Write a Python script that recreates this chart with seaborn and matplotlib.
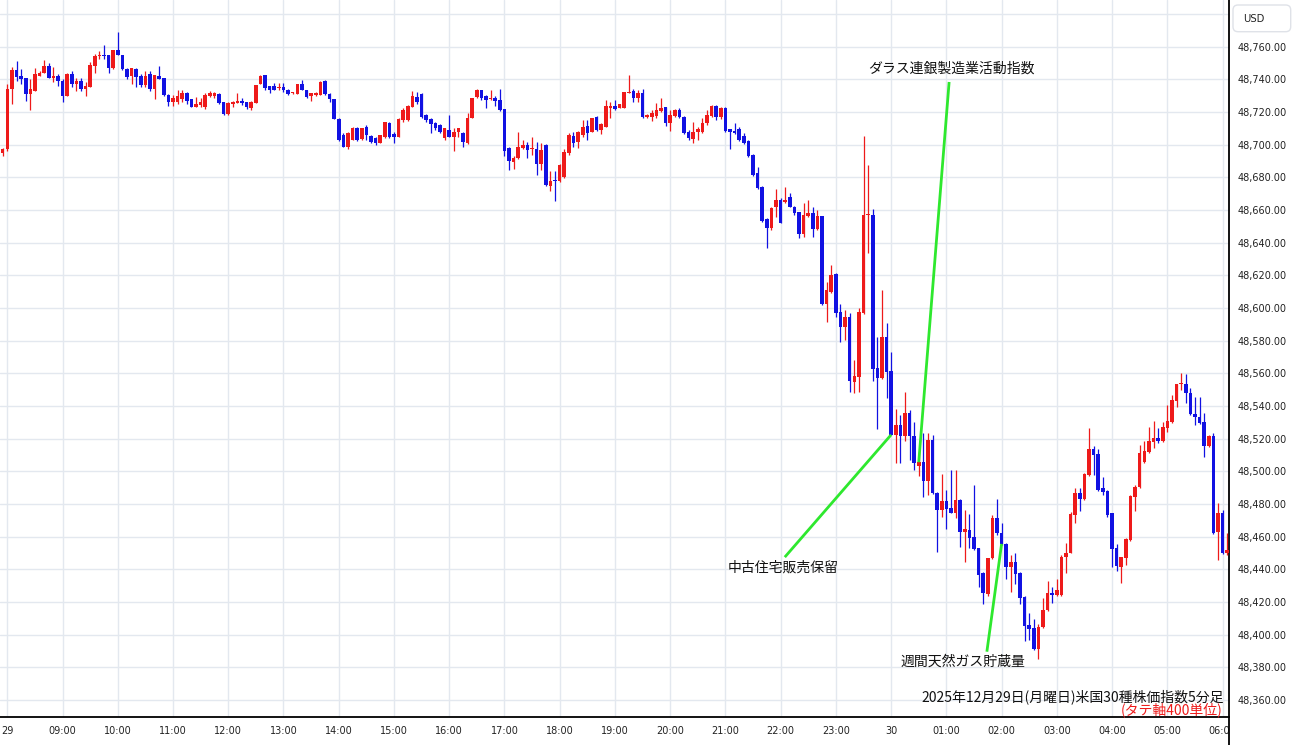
import numpy as np
import pandas as pd
import matplotlib
matplotlib.use("Agg")
import matplotlib.pyplot as plt
import seaborn as sns
from matplotlib.patches import FancyBboxPatch, Rectangle
from matplotlib.lines import Line2D

# ---------------- data (5-minute candles, 07:55 on the 29th -> 06:05 on the 30th) ----------------
opens = [48695, 48697, 48734, 48745.5, 48742, 48740.8, 48731, 48733, 48742, 48744,
         48748, 48741, 48742, 48739, 48730, 48743, 48737, 48739, 48734, 48735,
         48748, 48754, 48755, 48754.6, 48747, 48757.7, 48755, 48746.5, 48742, 48746.5,
         48742, 48736.7, 48743, 48734, 48742, 48741, 48730.5, 48726, 48726.2, 48727.6,
         48731.3, 48727.6, 48723.1, 48724.2, 48723.1, 48729.7, 48729.7, 48731, 48726, 48718.4,
         48724.8, 48725.6, 48726.8, 48726.2, 48722.1, 48725.6, 48737, 48742.5, 48735.8, 48735.8,
         48734.4, 48735, 48733.7, 48731.3, 48731, 48737, 48733.7, 48729.7, 48730.3, 48730.3,
         48739, 48731, 48727.9, 48715.7, 48705.9, 48698.7, 48702.8, 48710.4, 48703.2, 48711,
         48705.5, 48703.8, 48700.8, 48704.9, 48713, 48706.3, 48704.9, 48715.1, 48715.1, 48723.2,
         48729.4, 48730.8, 48718.1, 48715.5, 48713, 48712, 48703.8, 48708.9, 48704.9, 48707.9,
         48706.9, 48700.8, 48716.1, 48729.3, 48733.4, 48729.9, 48727.7, 48728.7, 48727.3, 48721.8,
         48697.7, 48689.6, 48691.6, 48697.7, 48699.7, 48697.3, 48697.3, 48687.9, 48699.7, 48674.7,
         48678.1, 48677.7, 48680.4, 48694.6, 48705.5, 48701.4, 48705.9, 48711.6, 48707.9, 48717.1,
         48708.9, 48711, 48722.2, 48723.8, 48722.2, 48722.6, 48731.4, 48732.8, 48728.3, 48731.4,
         48717.1, 48716.7, 48717.5, 48720.8, 48722.8, 48713, 48717.5, 48721.2, 48717.1, 48707.9,
         48703.2, 48707.9, 48707.9, 48713, 48717.5, 48723.6, 48717.1, 48722.2, 48709.3, 48708.5,
         48709.3, 48705.2, 48702.4, 48693.6, 48682.4, 48674.2, 48654.2, 48648.7, 48661.6, 48666.1,
         48665.1, 48667.7, 48662, 48658.9, 48645.2, 48656.3, 48658.3, 48648.1, 48656.3, 48602.4,
         48610, 48620.8, 48597.7, 48588.5, 48594.7, 48554.9, 48557.9, 48597.1, 48656.9, 48656.9,
         48563, 48556.9, 48582.4, 48561.6, 48522.3, 48528.4, 48521.6, 48535.5, 48521.6, 48503,
         48505.5, 48494.3, 48519.2, 48486.5, 48476.3, 48482, 48477.3, 48474.7, 48482.4, 48463,
         48464.1, 48460, 48452.8, 48437.6, 48424.9, 48446.7, 48471.2, 48462, 48455.5, 48441.6,
         48444.7, 48437.6, 48422.9, 48406, 48403.9, 48391, 48404.5, 48415.1, 48425.7, 48424.3,
         48424.3, 48447.3, 48450.1, 48473.2, 48486.4, 48482.7, 48497.6, 48513.9, 48510.3, 48489.5,
         48488, 48474.2, 48452.7, 48441.5, 48446.6, 48457.8, 48484.3, 48490.1, 48505.8, 48511.9,
         48518, 48520.1, 48518.6, 48526.2, 48530.3, 48543.1, 48553.3, 48553.3, 48548, 48535,
         48532.9, 48530.3, 48515.4, 48521.5, 48462.9, 48474.2, 48449.7]

highs = [48698, 48737, 48747.5, 48751, 48746.5, 48741, 48740, 48747, 48745, 48752,
         48750, 48747.5, 48743, 48740, 48744, 48745, 48741, 48741, 48738, 48750.5,
         48755.6, 48757, 48761, 48755, 48758, 48769, 48755, 48747, 48747, 48747,
         48743, 48745, 48745, 48742.4, 48748, 48741, 48731, 48730.3, 48733.3, 48733.7,
         48732, 48728, 48729.2, 48728.8, 48731.3, 48733, 48732.3, 48731.5, 48726.2, 48726,
         48726.8, 48731.3, 48728.8, 48726.2, 48726.8, 48736.4, 48742.5, 48742.5, 48735.8, 48737.4,
         48737.4, 48737.4, 48734.2, 48732.3, 48737, 48739.5, 48733.7, 48731.7, 48732, 48739,
         48739.5, 48731.4, 48728, 48716, 48706.9, 48707.9, 48711, 48710.8, 48710.4, 48712,
         48705.8, 48704.9, 48705.9, 48714, 48713.6, 48707.9, 48716.1, 48722.2, 48724.2, 48732.8,
         48732.4, 48731.3, 48719, 48716, 48714, 48712.5, 48710.4, 48718.1, 48710, 48710.4,
         48707.9, 48719.1, 48728.3, 48734, 48733.4, 48730.4, 48733.4, 48729.9, 48734, 48722,
         48698.7, 48693.2, 48707.9, 48702.8, 48701.8, 48704.8, 48701.8, 48700.8, 48700.1, 48683.8,
         48683.8, 48687.9, 48697.3, 48706.9, 48707.9, 48708, 48715.1, 48715.1, 48716.5, 48717.7,
         48713, 48727.3, 48725.8, 48727.3, 48725, 48732.4, 48742.6, 48734, 48733.4, 48734,
         48718.5, 48721.2, 48725.2, 48728.3, 48723, 48721.2, 48721.5, 48722.2, 48717.3, 48708.9,
         48714, 48711, 48716.1, 48721.2, 48724.2, 48724.2, 48723.2, 48723.2, 48709.5, 48713,
         48711, 48706.9, 48703, 48694, 48686.5, 48674.5, 48655, 48661.6, 48672.6, 48667.1,
         48674.2, 48670.1, 48662.5, 48659, 48664, 48666, 48662, 48659.9, 48656.5, 48616.1,
         48626.3, 48621.6, 48602.4, 48598.7, 48597.1, 48568.1, 48599.8, 48705.2, 48687.5, 48660.3,
         48582.4, 48611, 48591, 48573.2, 48537.9, 48534.5, 48548.8, 48537.5, 48530.4, 48512,
         48523.2, 48523.6, 48522.2, 48487, 48498.4, 48488.6, 48500.8, 48500.8, 48483, 48476.3,
         48473.9, 48491.6, 48453, 48438, 48446.7, 48473.3, 48482.8, 48468.2, 48456, 48448.8,
         48450.2, 48438, 48423.3, 48413.1, 48409.4, 48406.6, 48422.3, 48432.5, 48429.4, 48433.9,
         48448.8, 48456, 48475.2, 48489.5, 48489.5, 48499, 48526.2, 48515.4, 48513.3, 48496.2,
         48488.3, 48474.5, 48455.4, 48447.6, 48458.9, 48485.4, 48491.5, 48516, 48518.6, 48527.2,
         48530.9, 48526.2, 48530.3, 48540.5, 48546.6, 48553.7, 48560.2, 48559.8, 48550.7, 48545.6,
         48545.2, 48535.8, 48522.1, 48523.5, 48480.3, 48476.2, 48461.9]

lows = [48693, 48696, 48725, 48739, 48737, 48726.5, 48721, 48733, 48742, 48744,
        48741, 48738, 48736, 48726, 48730, 48735, 48733, 48733, 48729.5, 48735,
        48744, 48752.6, 48752.6, 48744, 48746.5, 48755, 48745.5, 48740, 48737, 48735,
        48735, 48735, 48733, 48728, 48740, 48730, 48723.6, 48723.5, 48725, 48726.2,
        48725, 48722.7, 48722.7, 48723.1, 48721.5, 48729.2, 48728.8, 48724.8, 48718, 48718,
        48723, 48725.2, 48724.4, 48722, 48721, 48725.2, 48737, 48733.7, 48731.3, 48733.7,
        48733.3, 48732.3, 48730.3, 48730.8, 48731, 48733.3, 48728.8, 48726.8, 48730, 48730.3,
        48730.3, 48726.3, 48715.5, 48702.2, 48698.5, 48697.3, 48702.8, 48702.4, 48702.8, 48702.8,
        48700.8, 48699.8, 48700.8, 48703.8, 48703.8, 48700.8, 48704.9, 48714, 48714.5, 48723.2,
        48724.6, 48716.5, 48714, 48707, 48708.9, 48707, 48702.8, 48704.5, 48696, 48704.9,
        48698.7, 48700.2, 48716.1, 48728.7, 48727.3, 48722.4, 48727.3, 48723.8, 48720.6, 48693.2,
        48684.4, 48685, 48691.2, 48697.3, 48691.6, 48693.6, 48681.4, 48684.4, 48674.7, 48671.6,
        48665.5, 48677.3, 48679.3, 48693.6, 48698.7, 48697.7, 48704.9, 48702.8, 48707.5, 48708.3,
        48706.3, 48710.5, 48716.1, 48721.2, 48722.2, 48722.2, 48731.4, 48725.8, 48725.8, 48716.5,
        48716.5, 48714.6, 48716.1, 48720.1, 48711.4, 48708.5, 48717, 48716.5, 48706.5, 48702.8,
        48700.8, 48702.8, 48706.9, 48712, 48717, 48715.1, 48715.5, 48707.9, 48697.1, 48706.5,
        48702.4, 48700.4, 48692.6, 48680.8, 48672.8, 48652.8, 48636.5, 48647.7, 48655.9, 48651.8,
        48664.1, 48661.6, 48656.9, 48642.6, 48643.6, 48655.5, 48643.6, 48647.5, 48601.8, 48591.6,
        48609.4, 48594.7, 48579.3, 48580.4, 48548.8, 48547.7, 48548.8, 48596.5, 48633.8, 48555.5,
        48525.7, 48556.3, 48544.7, 48522, 48504.9, 48504.9, 48518.2, 48506.9, 48500.8, 48497,
        48484, 48485.5, 48486, 48450.8, 48472.2, 48464.5, 48474.3, 48471.2, 48453.5, 48444.7,
        48452.9, 48451.8, 48429.4, 48418.8, 48423.3, 48446.2, 48461, 48455, 48433.9, 48426.3,
        48431, 48418.8, 48396.3, 48396.8, 48390.5, 48384.9, 48404, 48414.7, 48419.2, 48423.7,
        48423.7, 48437.4, 48449.7, 48468.4, 48475.8, 48482.3, 48497.2, 48497.6, 48488, 48485.4,
        48472.1, 48441.5, 48439.1, 48431.3, 48442.5, 48457.5, 48475.8, 48489.7, 48505.2, 48511.3,
        48514.5, 48517.4, 48518, 48524.1, 48529.5, 48539.4, 48550, 48541.9, 48534.5, 48528.2,
        48529.2, 48508.8, 48515, 48461.5, 48445.6, 48449.3, 48449]

closes = [48697, 48734, 48745.5, 48741.5, 48740, 48731, 48734, 48743, 48744, 48748,
          48741, 48742, 48739, 48730, 48743, 48737, 48739, 48734, 48736, 48748.5,
          48754.5, 48755, 48754, 48747, 48757.7, 48755, 48746, 48741.5, 48747, 48741.5,
          48736.7, 48742, 48734, 48742.4, 48740, 48730.5, 48726, 48728.8, 48729.7, 48731.3,
          48726.8, 48723.1, 48724.6, 48726.2, 48730.3, 48731.3, 48731.3, 48725.2, 48718.4, 48725.6,
          48726.2, 48726.8, 48725.2, 48723.1, 48726.2, 48736.4, 48742, 48734.4, 48733.3, 48733.7,
          48734.6, 48733.3, 48731, 48731.7, 48737, 48733.7, 48729.2, 48731.7, 48731.7, 48738.4,
          48731, 48727.9, 48715.7, 48702.8, 48698.7, 48706.9, 48710.4, 48702.8, 48710, 48705.9,
          48701.8, 48700.8, 48705.9, 48713.6, 48704.9, 48704.9, 48715.7, 48721.2, 48723.8, 48730,
          48725.9, 48717.1, 48715.1, 48712.4, 48710.4, 48707.5, 48710, 48704.9, 48707.9, 48710,
          48701.8, 48716.1, 48728.3, 48733.4, 48728.5, 48727.5, 48728.7, 48726.7, 48721.2, 48696.1,
          48690, 48692, 48698.7, 48699.7, 48696.7, 48697.5, 48687.9, 48696.7, 48675.3, 48677.7,
          48677.9, 48687.5, 48695.2, 48705.9, 48700.8, 48707.5, 48711, 48706.9, 48716.1, 48708.9,
          48712.4, 48723.8, 48723.8, 48721.8, 48724.6, 48732, 48732, 48728.3, 48731.4, 48717.1,
          48718.1, 48719.5, 48721.2, 48722.2, 48713, 48718.1, 48721.2, 48717.1, 48706.9, 48703.8,
          48707.9, 48709.3, 48713, 48718.1, 48723.6, 48717.1, 48722.2, 48708.5, 48707.9, 48706.9,
          48702.8, 48700.8, 48693, 48681.4, 48673.2, 48653.4, 48648.7, 48661, 48666.1, 48652.2,
          48666.1, 48662, 48657.9, 48645.2, 48657, 48658.3, 48648.1, 48656.3, 48602.4, 48611,
          48620.2, 48597.1, 48588.5, 48594.7, 48555.5, 48558.3, 48597.7, 48656.9, 48657.1, 48562.4,
          48556.9, 48582.4, 48561, 48522.3, 48528.4, 48521.6, 48535.5, 48521.6, 48504.9, 48505.5,
          48494.3, 48519.2, 48486.5, 48476.3, 48482, 48476.7, 48474.7, 48482.4, 48463, 48464.5,
          48459, 48452.2, 48436.5, 48425.3, 48446.7, 48471.2, 48462, 48455.5, 48441.6, 48444.7,
          48437.2, 48422.3, 48405.3, 48403.3, 48391, 48404.9, 48415.1, 48425.7, 48424.3, 48427.4,
          48447.3, 48450.2, 48473.8, 48486.4, 48482.7, 48498.2, 48513.9, 48509.9, 48488.8, 48487.4,
          48473.1, 48452.1, 48441.9, 48447.2, 48458.2, 48484.8, 48490.1, 48510.9, 48512.5, 48518.6,
          48520.1, 48518.6, 48527.2, 48530.9, 48543.5, 48553.3, 48553.5, 48548, 48535, 48532.9,
          48529.6, 48515.4, 48521.5, 48461.9, 48474.2, 48449.7, 48451.7]

# hour gridlines / labels (candle index of each full hour)
hour_idx = list(range(1, 266, 12))
hour_labels = ["29", "09:00", "10:00", "11:00", "12:00", "13:00", "14:00", "15:00",
               "16:00", "17:00", "18:00", "19:00", "20:00", "21:00", "22:00", "23:00",
               "30", "01:00", "02:00", "03:00", "04:00", "05:00", "06:00"]
price_ticks = list(range(48360, 48781, 20))

# event annotations: text, text anchor (candle idx, price), line start, target candle
event_texts = ["ダラス連銀製造業活動指数", "中古住宅販売保留", "週間天然ガス貯蔵量"]
event_text_pos = [(206.2, 48746.8), (169.5, 48440.7), (208.6, 48383.2)]
event_line_start = [(205.6, 48738.3), (169.9, 48447.4), (213.8, 48389.5)]
event_candle = [199, 193, 217]

title_line1 = "2025年12月29日(月曜日)米国30種株価指数5分足"
title_line2 = "(タテ軸400単位)"

# ---------------- styling ----------------
sns.set_style("white")
plt.rcParams["font.family"] = ["Noto Sans CJK JP", "DejaVu Sans"]

RED = "#ee1a1a"
BLUE = "#1111e2"
GREEN = "#2ee82e"
GRID = "#e3e8ef"

W, H = 1300, 745
fig = plt.figure(figsize=(W / 100, H / 100), dpi=100)
ax_bottom = 28.3
ax_right = 1229
ax = fig.add_axes([0, ax_bottom / H, ax_right / W, (H - ax_bottom) / H])

df = pd.DataFrame({"o": opens, "h": highs, "l": lows, "c": closes})
df["i"] = np.arange(len(df))
df["up"] = df["c"] >= df["o"]
df["color"] = np.where(df["up"], RED, BLUE)
df["body_lo"] = df[["o", "c"]].min(axis=1)
df["body_h"] = (df["c"] - df["o"]).abs().clip(lower=0.7)

# wicks and bodies
ax.vlines(df["i"], df["l"], df["h"], colors=df["color"], linewidth=0.9, zorder=3)
ax.bar(df["i"], df["body_h"], bottom=df["body_lo"], width=0.78,
       color=df["color"], edgecolor="none", zorder=4)

# limits
ax.set_xlim(-0.586, 266.4)
ax.set_ylim(48349.7, 48788.5)

# grid
ax.set_xticks(hour_idx)
ax.set_xticklabels(hour_labels)
ax.set_yticks(price_ticks)
ax.set_yticklabels([f"{v:,.2f}" if v <= 48760 else "" for v in price_ticks])
ax.grid(True, color=GRID, linewidth=1.0, zorder=0)
ax.set_axisbelow(True)
ax.yaxis.tick_right()
ax.tick_params(axis="both", length=0, labelsize=7, labelcolor="#222222",
               labelfontfamily="DejaVu Sans")
ax.tick_params(axis="y", pad=6.5)
ax.tick_params(axis="x", pad=6.5)

for s in ["top", "left"]:
    ax.spines[s].set_visible(False)
for s in ["bottom", "right"]:
    ax.spines[s].set_color("black")
    ax.spines[s].set_linewidth(1.3)

# annotations
for txt, tpos, lstart, ci in zip(event_texts, event_text_pos, event_line_start, event_candle):
    ax.plot([lstart[0], ci], [lstart[1], closes[ci]], color=GREEN, linewidth=2.0,
            solid_capstyle="butt", zorder=6)
    ax.text(tpos[0], tpos[1], txt, ha="center", va="center", fontsize=10,
            color="#111111", zorder=7)

# bottom-right caption
fig.text(1224 / W, 1 - 696.5 / H, title_line1, ha="right", va="center",
         fontsize=10, color="#111111")
fig.text(1223 / W, 1 - 709.5 / H, title_line2, ha="right", va="center",
         fontsize=10, color=RED)

# cover the part of the last time label that goes past the price scale border
fig.add_artist(Rectangle(((ax_right + 1) / W, 0), (W - ax_right - 1) / W, ax_bottom / H,
                         transform=fig.transFigure, facecolor="white",
                         edgecolor="none", zorder=5))
fig.add_artist(Line2D([ax_right / W, ax_right / W], [0, ax_bottom / H],
                      transform=fig.transFigure, color="black", linewidth=1.3, zorder=6))

# USD box
fig.add_artist(FancyBboxPatch((12.33, (H - 31.7) / 100), 0.577, 0.267,
                              boxstyle="round,pad=0,rounding_size=0.05",
                              transform=fig.dpi_scale_trans, facecolor="white",
                              edgecolor="#dfe2e8", linewidth=1.0, zorder=6))
fig.text(1243 / W, 1 - 18.5 / H, "USD", ha="left", va="center", fontsize=7.2,
         color="#222222", family="DejaVu Sans", zorder=7)

fig.savefig("out.png", dpi=100, facecolor="white")
